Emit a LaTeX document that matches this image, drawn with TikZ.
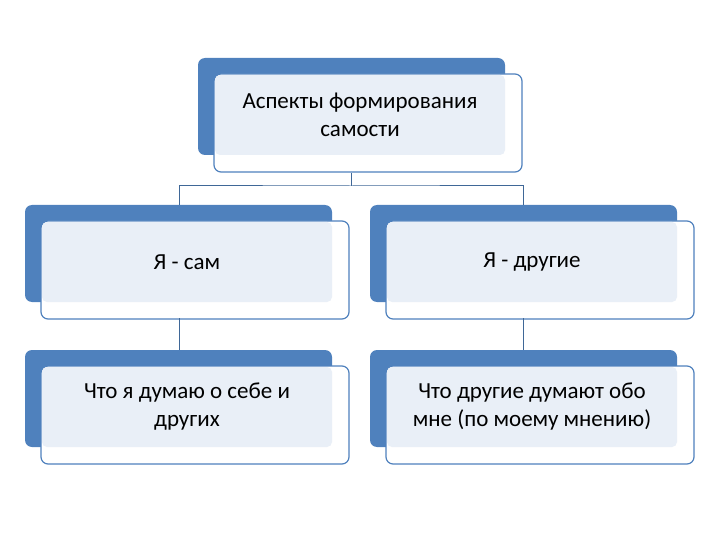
\documentclass[tikz,border=0pt]{standalone}
\usepackage{fontspec}
\setmainfont{Carlito}
\definecolor{bk}{HTML}{4F81BD}
\definecolor{lt}{HTML}{E9EFF7}
\begin{document}
\begin{tikzpicture}[x=1pt,y=-1pt,
  back/.style={fill=bk,rounded corners=7pt},
  front/.style={draw=bk,line width=1.2pt,fill=white,rounded corners=7pt},
  inner/.style={fill=lt,rounded corners=5pt},
  lbl/.style={align=center,font=\fontsize{23}{28}\selectfont,text=black},
  con/.style={draw=bk!80!black,line width=1pt}]
\useasboundingbox (0,0) rectangle (720,540);
\newcommand{\blk}[5]{%
  \fill[back] (#1,#2) rectangle ++(307,97);
  \draw[front] (#1+16,#2+16) rectangle ++(308,98);
  \fill[inner] (#1+17,#2+17) rectangle (#1+307,#2+97);
  \node[lbl] (#3) at (#1+162,#2+57) {#4};
  \coordinate (#3t) at (#1+154,#2+16);
  \coordinate (#3b) at (#1+154,#2+114);}
\blk{198}{58}{top}{Аспекты формирования\\самости}{}
\blk{25}{205}{a}{Я - сам}{}
\blk{370}{205}{b}{Я - другие}{}
\blk{25}{350}{c}{Что я думаю о себе и\\других}{}
\blk{370}{350}{d}{Что другие думают обо\\мне (по моему мнению)}{}
\coordinate (j) at (351,186);
\draw[con] (351,173) -- (j);
\draw[con] (179,205) |- (j) -| (523,205);
\draw[con] (179,318) -- (179,350);
\draw[con] (523,318) -- (523,350);
\end{tikzpicture}
\end{document}
